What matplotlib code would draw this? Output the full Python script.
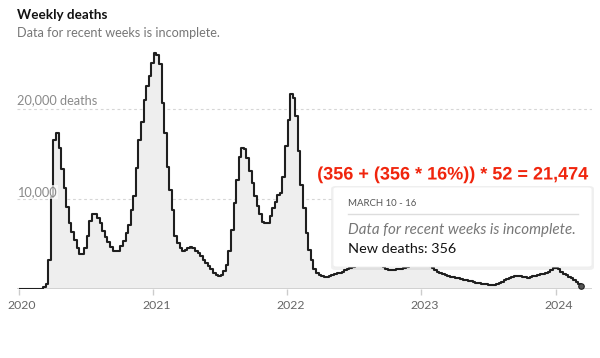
import matplotlib
matplotlib.use('Agg')
import matplotlib.pyplot as plt
import matplotlib.patheffects as pe
from matplotlib.patches import FancyBboxPatch
from matplotlib.transforms import ScaledTranslation
import pandas as pd

# ── data (weekly deaths, week starting Sunday) ───────────────────────────────
first_week = '2020-01-05'
deaths = [
    0, 0, 0, 0, 0, 0, 0, 0, 0, 200,
    550, 3300, 10200, 16600, 17300, 15700, 13300, 11200, 9100, 7400,
    6300, 5500, 4600, 3900, 3900, 4600, 5900, 7600, 8300, 8300,
    7900, 7400, 6500, 5800, 5200, 4700, 4300, 4300, 4300, 4800,
    5300, 6200, 7100, 8800, 10300, 13400, 16600, 18600, 21000, 22500,
    23600, 25100, 26200, 26000, 25000, 20700, 17300, 13600, 11000, 8800,
    5900, 5100, 4600, 4300, 4400, 4600, 4700, 4600, 4300, 4000,
    3700, 3300, 2950, 2600, 2200, 1850, 1600, 1500, 1600, 2000,
    2700, 4200, 6600, 9600, 12100, 14700, 15700, 15500, 14600, 13100,
    11800, 10300, 9200, 8300, 7500, 7300, 7300, 8100, 9000, 9700,
    10400, 10700, 12500, 15900, 18800, 21600, 21200, 19200, 15300, 11600,
    9000, 6200, 4400, 3300, 2300, 1800, 1550, 1450, 1400, 1400,
    1450, 1550, 1700, 1800, 1850, 1950, 2100, 2250, 2350, 2450,
    2600, 2800, 3000, 3100, 3200, 3100, 3000, 2900, 2800, 2700,
    2600, 2450, 2300, 2150, 2150, 2150, 2200, 2200, 2300, 2350,
    2450, 2700, 3000, 3300, 3600, 3800, 3700, 3300, 2900, 2600,
    2400, 2100, 1960, 1850, 1700, 1600, 1500, 1400, 1320, 1250,
    1200, 1150, 1080, 1000, 950, 900, 820, 740, 680, 640,
    590, 540, 500, 480, 500, 560, 700, 850, 1000, 1130,
    1220, 1320, 1450, 1480, 1450, 1400, 1350, 1300, 1380, 1480,
    1520, 1580, 1650, 1700, 1820, 1950, 2150, 2330, 2350, 2200,
    1900, 1750, 1550, 1400, 1200, 1050, 800, 600, 356,
]
year_ticks = ['2020-01-01', '2021-01-01', '2022-01-01', '2023-01-01', '2024-01-01']
year_labels = ['2020', '2021', '2022', '2023', '2024']

title = 'Weekly deaths'
subtitle = 'Data for recent weeks is incomplete.'
tip_date = 'MARCH 10 - 16'
tip_note = 'Data for recent weeks is incomplete.'
tip_value = 'New deaths: 356'
formula = '(356 + (356 * 16%)) * 52 = 21,474'

# ── palette ──────────────────────────────────────────────────────────────────
LINE_C = '#1f1f1f'
FILL_C = '#eeeeee'
GRID_C = '#d6d6d6'
AXIS_C = '#cccccc'
TICK_C = '#666666'
RED_C  = '#f0250d'

plt.rcParams['font.family'] = ['Lato', 'DejaVu Sans']

W, H = 600, 358
fig = plt.figure(figsize=(W / 100, H / 100), dpi=100, facecolor='white')


def fx(px):
    return px / W


def fy(py):
    return 1 - py / H


# axes: baseline at y=289.3px, 10k deaths per 90.2px
ymax = 27000
ax = fig.add_axes([fx(16.7), fy(289.3), fx(592) - fx(16.7), ymax * 0.00902 / H])

weeks = pd.date_range(first_week, periods=len(deaths), freq='7D')
ax.fill_between(weeks, deaths, step='post', color=FILL_C, lw=0, zorder=1)
ax.step(weeks, deaths, where='post', color=LINE_C, lw=1.5, zorder=3)
ax.plot(weeks[-1], deaths[-1], 'o', ms=4, mfc='#555555', mec=LINE_C, mew=0.8, zorder=4)

ax.set_xlim(pd.Timestamp('2019-12-27'), pd.Timestamp('2024-04-09'))
ax.set_ylim(0, ymax)

for v in (10000, 20000):
    ax.axhline(v, color=GRID_C, lw=0.8, ls=(0, (2.5, 2.5)), zorder=0)
ax.axhline(0, color=AXIS_C, lw=1.2, zorder=2)

for s in ax.spines.values():
    s.set_visible(False)
ax.set_yticks([])
ax.set_xticks(pd.to_datetime(year_ticks))
ax.set_xticklabels(year_labels)
ax.tick_params(axis='x', length=4, width=1, color=AXIS_C, labelcolor=TICK_C,
               labelsize=8.8, pad=4)
shift = ScaledTranslation(3.5 / 100, 0, fig.dpi_scale_trans)
for lab in ax.get_xticklabels():
    lab.set_transform(lab.get_transform() + shift)

ax.text(0, 20540, '20,000 deaths', transform=ax.get_yaxis_transform(),
        ha='left', va='baseline', fontsize=9.2, color='#8a8a8a', zorder=2)
ax.text(0, 10340, '10,000', transform=ax.get_yaxis_transform(),
        ha='left', va='baseline', fontsize=9.2, color='#8a8a8a', zorder=5,
        bbox=dict(boxstyle='square,pad=0.1', fc='white', ec='none', alpha=0.7))

# ── header ───────────────────────────────────────────────────────────────────
fig.text(fx(17), fy(19.3), title, ha='left', va='baseline', fontsize=9.7,
         fontweight='bold', color='#121212')
fig.text(fx(17), fy(37.3), subtitle, ha='left', va='baseline', fontsize=9.1,
         color='#777777')

# ── tooltip ──────────────────────────────────────────────────────────────────
bx0, by0, bx1, by1 = 333, 187, 592, 267
shadow = FancyBboxPatch((fx(bx0 - 2), fy(by1 + 3)), fx(bx1 - bx0 + 4), (by1 - by0 + 4) / H,
                        boxstyle='round,pad=0,rounding_size=0.008',
                        transform=fig.transFigure, fc='#000000', ec='none',
                        alpha=0.06, zorder=5)
box = FancyBboxPatch((fx(bx0), fy(by1)), fx(bx1 - bx0), (by1 - by0) / H,
                     boxstyle='round,pad=0,rounding_size=0.006',
                     transform=fig.transFigure, fc='white', ec='#eeeeee',
                     lw=0.6, zorder=6)
fig.add_artist(shadow)
fig.add_artist(box)
fig.add_artist(plt.Line2D([fx(348), fx(578)], [fy(214.3), fy(214.3)],
                          transform=fig.transFigure, color='#dddddd', lw=1, zorder=7))
fig.text(fx(348), fy(205.7), tip_date, ha='left', va='baseline', fontsize=6.9,
         color='#555555', zorder=7)
fig.text(fx(348), fy(234), tip_note, ha='left', va='baseline', fontsize=10.9,
         style='italic', color='#777777', zorder=7)
fig.text(fx(348), fy(253.3), tip_value, ha='left', va='baseline', fontsize=10.4,
         color='#121212', zorder=7)

# ── red annotation ───────────────────────────────────────────────────────────
fig.text(fx(452), fy(179.5), formula, ha='center', va='baseline', fontsize=13,
         fontweight='bold', color=RED_C, family=['Liberation Sans', 'DejaVu Sans'],
         zorder=8, path_effects=[pe.withStroke(linewidth=3, foreground='white')])

fig.savefig('out.png', dpi=100, facecolor='white')
